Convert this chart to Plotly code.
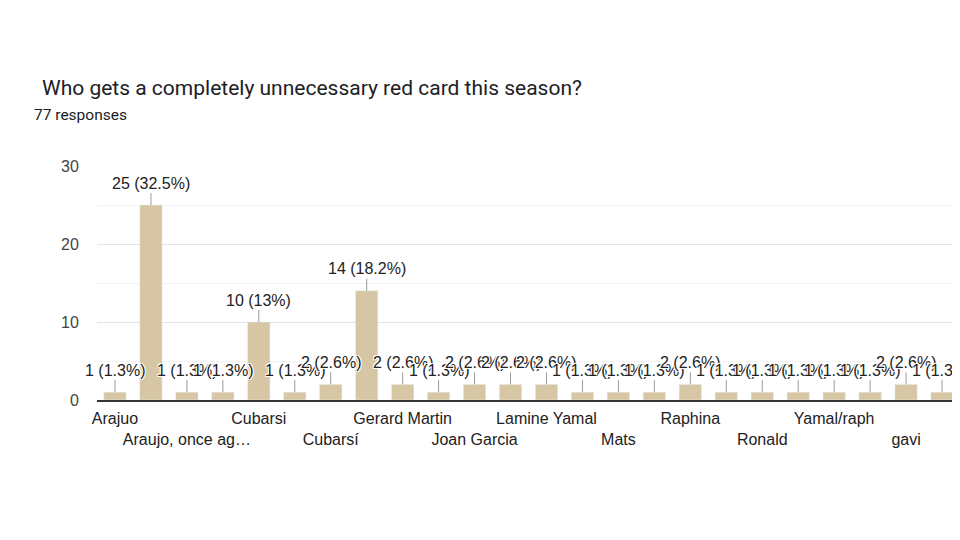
import plotly.graph_objects as go

# responses per answer (sorted the way Forms sorts them)
answers = ["Arajuo", "Araujo", "Araujo, once again", "Balde", "Cubarsi", "Cubarsi.",
           "Cubarsí", "Gavi", "Gerard Martin", "Gerard martin", "Joan Garcia", "Koundé",
           "Lamine Yamal", "Lewandowski", "Mats", "Pedri", "Raphina", "Raphinha",
           "Ronald", "Szczesny", "Yamal/raph", "araujo", "gavi", "pedri"]
counts = [1, 25, 1, 1, 10, 1, 2, 14, 2, 1, 2, 2, 2, 1, 1, 1, 2, 1, 1, 1, 1, 1, 2, 1]

total = sum(counts)
bar_color = "#d7c6a4"
chart_font = "Liberation Sans, Arial, sans-serif"
halo = "1px 1px 0 white, -1px -1px 0 white, 1px -1px 0 white, -1px 1px 0 white"

# page body has an 8px margin, so the figure is drawn 8px smaller
W, H = 952, 532
L, T, B = 89, 158, 140

fig = go.Figure(go.Bar(x=answers, y=counts, marker_color=bar_color, width=0.62,
                       hovertemplate="%{x}: %{y}<extra></extra>"))

# value labels with leader lines
for name, n in zip(answers, counts):
    pct = round(n / total * 100, 1)
    fig.add_annotation(x=name, y=n, text=f"{n} ({pct:g}%)", showarrow=True,
                       arrowhead=0, arrowwidth=1, arrowcolor="#999999", ax=0, ay=-22,
                       font=dict(family=chart_font, size=16, color="#222222", shadow=halo))

# only every other category gets a label, staggered in two rows
def short(s, n=15):
    return s if len(s) <= n else s[:n].rstrip() + "…"

shown = answers[::2]
tick_text = [short(s) if i % 2 == 0 else "<br>" + short(s) for i, s in enumerate(shown)]

plot_w = W - L
plot_h = H - T - B
fig.update_layout(
    width=W, height=H,
    margin=dict(l=L, r=0, t=T, b=B),
    plot_bgcolor="white", paper_bgcolor="white",
    showlegend=False,
    title=dict(text="Who gets a completely unnecessary red card this season?",
               xref="container", yref="container", x=34 / W, y=1 - 80 / H,
               xanchor="left", yanchor="middle",
               font=dict(family="Roboto, sans-serif", size=21, color="#202124")),
)
fig.add_annotation(text="77 responses", xref="paper", yref="paper",
                   x=(24 - L) / plot_w, y=(T + plot_h - 107) / plot_h,
                   xanchor="left", yanchor="middle", showarrow=False,
                   font=dict(family="Roboto, sans-serif", size=15.5, color="#202124"))

# fixed range so the labels don't pad the category axis
fig.update_xaxes(range=[-0.5, len(answers) - 0.5],
                 tickmode="array", tickvals=shown, ticktext=tick_text, tickangle=0,
                 automargin=False, showline=True, linecolor="#333333", linewidth=1.5,
                 ticks="outside", ticklen=3, tickcolor="rgba(0,0,0,0)",
                 tickfont=dict(family=chart_font, size=16, color="#222222"))
fig.update_yaxes(range=[0, 30], dtick=10, showgrid=True, gridcolor="#e3e3e3",
                 automargin=False, zeroline=False,
                 ticks="outside", ticklen=14, tickcolor="rgba(0,0,0,0)",
                 minor=dict(dtick=5, showgrid=True, gridcolor="#f2f2f2"),
                 tickfont=dict(family=chart_font, size=16, color="#444444"))

fig.write_html("out.html")
